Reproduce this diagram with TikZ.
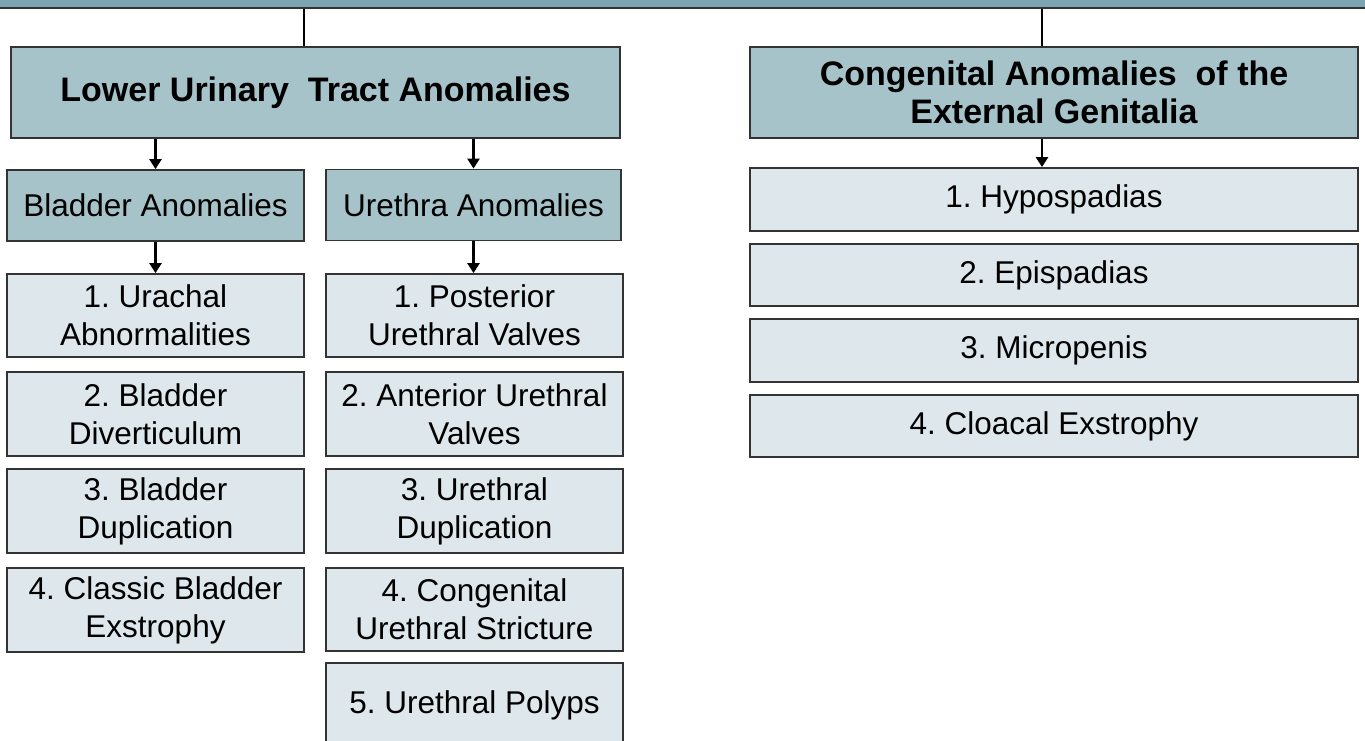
\documentclass[tikz,border=0pt]{standalone}
\usepackage{fontspec}
\setmainfont{Liberation Sans}
\usetikzlibrary{arrows.meta}
\frenchspacing
\definecolor{barteal}{HTML}{7DA5B1}
\definecolor{headteal}{HTML}{A6C3CA}
\definecolor{itemgray}{HTML}{DEE7EB}
\definecolor{edgegray}{HTML}{333333}
\tikzset{
  headbox/.style={draw=edgegray,line width=1.8pt,fill=headteal,minimum width=609pt,minimum height=91pt,align=center,font=\fontsize{34}{38}\selectfont\bfseries},
  groupbox/.style={draw=edgegray,line width=1.8pt,fill=headteal,minimum width=297pt,minimum height=71pt,font=\fontsize{31.5}{38}\selectfont},
  itembox/.style={draw=edgegray,line width=1.8pt,fill=itemgray,minimum width=297pt,minimum height=84pt,align=center,font=\fontsize{31.5}{38}\selectfont},
  wideitem/.style={itembox,minimum width=608pt,minimum height=63pt},
  link/.style={line width=2.4pt},
  arrowlink/.style={line width=2.4pt,-{Triangle[width=12pt,length=10pt]}}
}
\begin{document}
\begin{tikzpicture}[x=1pt,y=-1pt]
  \useasboundingbox[fill=white] (0,0) rectangle (1365,740);

  \node (bar) [fill=barteal,draw=edgegray,line width=1.8pt,minimum width=1380pt,minimum height=18pt,inner sep=0pt] at (682.5,-1) {};

  \node (lower) [headbox] at (315.5,92.5) {Lower Urinary\ \ Tract Anomalies};
  \node (genital) [headbox,minimum width=608pt] at (1054,92.5) {Congenital Anomalies\ \ of the\\External Genitalia};

  \node (bladder) [groupbox] at (155.5,205.5) {Bladder Anomalies};
  \node (urethra) [groupbox,minimum width=295pt] at (473.5,205) {Urethra Anomalies};

  \node (blad1) [itembox,minimum height=83pt] at (155.5,315.5) {1. Urachal\\Abnormalities};
  \node (blad2) [itembox] at (155.5,414) {2. Bladder\\Diverticulum};
  \node (blad3) [itembox] at (155.5,511) {3. Bladder\\Duplication};
  \node (blad4) [itembox] at (155.5,610) {4. Classic Bladder\\Exstrophy};

  \node (ure1) [itembox,minimum height=83pt] at (474.5,315.5) {1. Posterior\\Urethral Valves};
  \node (ure2) [itembox] at (474.5,414) {2. Anterior Urethral\\Valves};
  \node (ure3) [itembox] at (474.5,511) {3. Urethral\\Duplication};
  \node (ure4) [itembox,minimum height=83pt] at (474.5,609.5) {4. Congenital\\Urethral Stricture};
  \node (ure5) [itembox] at (474.5,705) {5. Urethral Polyps};

  \node (gen1) [wideitem] at (1054,199.5) {1. Hypospadias};
  \node (gen2) [wideitem,minimum height=62pt] at (1054,275) {2. Epispadias};
  \node (gen3) [wideitem] at (1054,350.5) {3. Micropenis};
  \node (gen4) [wideitem,minimum height=62pt] at (1054,426) {4. Cloacal Exstrophy};

  \coordinate (lowertap) at ([xshift=-11.5pt]lower.north);
  \coordinate (gentap) at ([xshift=-12pt]genital.north);
  \draw[link] (lowertap |- bar.south) -- (lowertap);
  \draw[link] (gentap |- bar.south) -- (gentap);

  \draw[arrowlink] (bladder.north |- lower.south) -- (bladder.north);
  \draw[arrowlink] (urethra.north |- lower.south) -- (urethra.north);
  \draw[arrowlink] (bladder.south) -- (bladder.south |- blad1.north);
  \draw[arrowlink] (urethra.south) -- (urethra.south |- ure1.north);
  \draw[arrowlink] (gentap |- genital.south) -- (gentap |- gen1.north);
\end{tikzpicture}
\end{document}
